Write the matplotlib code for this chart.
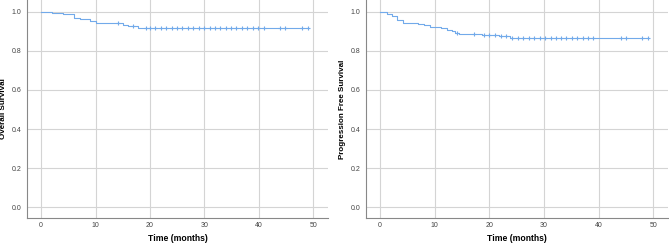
import matplotlib
matplotlib.use("Agg")
import matplotlib.pyplot as plt
import numpy as np

plt.rcParams["font.family"] = ["Liberation Sans", "DejaVu Sans"]

# Overall survival: step times and survival after each step
os_times = [0, 2.0, 4.1, 6.0, 7.2, 9.0, 10.0, 15.0, 16.0, 17.8, 49.0]
os_surv = [1.0, 0.993, 0.987, 0.966, 0.961, 0.954, 0.944, 0.932, 0.927, 0.917, 0.917]
os_cens_t = [14.2, 16.9, 19.2, 20.1, 21.0, 22.0, 23.0, 24.0, 25.0, 25.9, 27.0, 27.9,
             29.0, 29.9, 31.0, 31.9, 32.9, 33.9, 34.9, 35.9, 36.9, 37.9, 38.9, 39.9,
             40.9, 44.0, 44.9, 48.0, 49.0]

# Progression free survival
pfs_times = [0, 1.2, 2.1, 3.0, 4.2, 7.0, 8.1, 9.1, 11.2, 12.2, 13.1, 13.7, 14.5,
             18.6, 21.7, 23.8, 49.1]
pfs_surv = [1.0, 0.99, 0.98, 0.958, 0.944, 0.937, 0.930, 0.923, 0.917, 0.908, 0.900,
            0.893, 0.888, 0.879, 0.874, 0.864, 0.864]
pfs_cens_t = [14.0, 17.1, 19.0, 20.0, 21.0, 22.1, 23.0, 24.1, 25.2, 26.2, 27.2, 28.2,
              29.2, 30.2, 31.2, 32.2, 33.2, 34.1, 35.1, 36.1, 37.1, 38.1, 39.0, 44.1,
              45.0, 48.0, 49.1]

line_col = "#72aaea"
grid_col = "#d4d4d4"


def surv_at(times, surv, t):
    idx = np.searchsorted(times, t, side="right") - 1
    return np.array(surv)[idx]


def draw(ax, times, surv, cens, ylabel, ylab_x):
    ax.step(times, surv, where="post", color=line_col, lw=0.8)
    ax.plot(cens, surv_at(times, surv, cens), "+", color=line_col, ms=3.5, mew=0.8)
    ax.set_xlim(-2.6, 52.7)
    ax.set_ylim(-0.055, 1.06)
    ax.set_xticks([0, 10, 20, 30, 40, 50])
    ax.set_yticks([0.0, 0.2, 0.4, 0.6, 0.8, 1.0])
    ax.set_yticklabels(["0.0", "0.2", "0.4", "0.6", "0.8", "1.0"])
    ax.grid(True, color=grid_col, lw=0.8)
    ax.set_axisbelow(True)
    ax.tick_params(axis="x", length=0, labelsize=5, colors="#444444", pad=3)
    ax.tick_params(axis="y", length=0, labelsize=5, colors="#444444", pad=4)
    for s in ["top", "right"]:
        ax.spines[s].set_visible(False)
    for s in ["left", "bottom"]:
        ax.spines[s].set_color("#888888")
        ax.spines[s].set_linewidth(0.8)
    ax.set_xlabel("Time (months)", fontsize=6.2, fontweight="bold", va="center")
    ax.xaxis.set_label_coords(0.5, -0.095)
    ax.set_ylabel(ylabel, fontsize=5.8, fontweight="bold", va="center")
    ax.yaxis.set_label_coords(ylab_x, 0.5)


fig = plt.figure(figsize=(6.69, 2.44), dpi=100)
ax1 = fig.add_axes([0.0404, 0.1066, 0.4496, 0.8934])
ax2 = fig.add_axes([0.547, 0.1066, 0.4515, 0.8934])

draw(ax1, os_times, os_surv, os_cens_t, "Overall Survival", -0.078)
draw(ax2, pfs_times, pfs_surv, pfs_cens_t, "Progression Free Survival", -0.076)

fig.savefig("out.png", dpi=100)
